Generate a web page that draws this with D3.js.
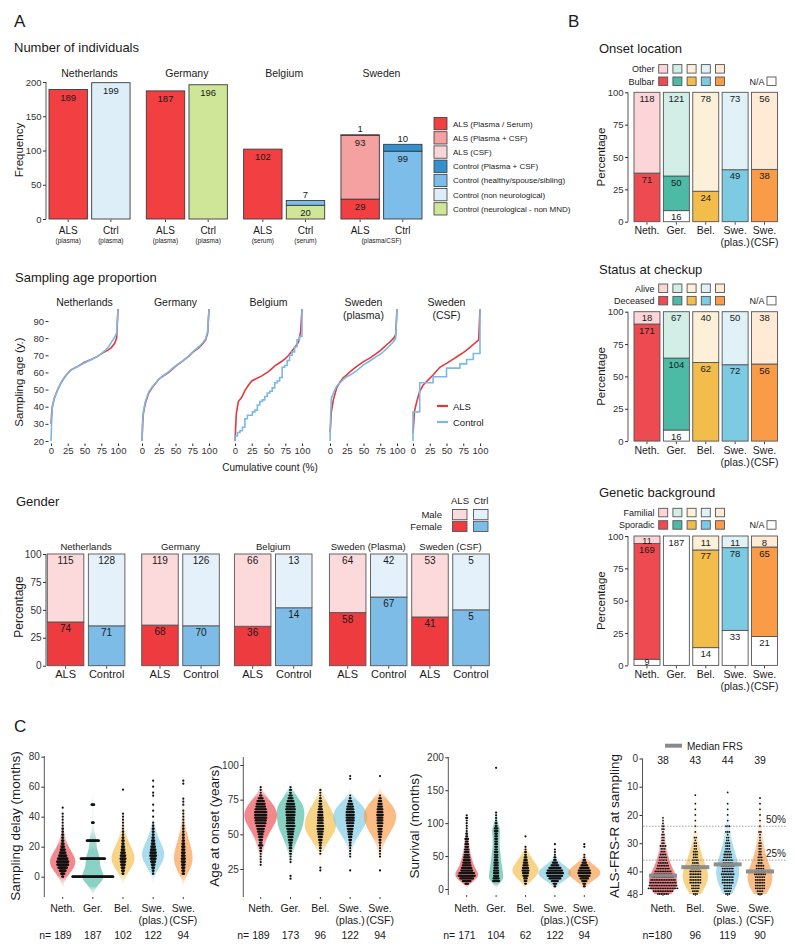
<!DOCTYPE html>
<html lang="en">
<head>
<meta charset="UTF-8">
<title>ALS cohorts</title>
<script src="https://cdn.jsdelivr.net/npm/d3@7"></script>
<style>
  body { margin: 0; background: #fff; }
  text { font-family: "Liberation Sans", Arial, Helvetica, sans-serif; }
</style>
</head>
<body>
<script>
const width = 800, height = 951;
const FONT = '"Liberation Sans", Arial, Helvetica, sans-serif';

// ---------- A: number of individuals ----------
const countries = ["Netherlands", "Germany", "Belgium", "Sweden"];
const sampleGroups = ["ALS", "Ctrl"];
const sampleMaterial = [["(plasma)", "(plasma)"], ["(plasma)", "(plasma)"], ["(serum)", "(serum)"], ["(plasma/CSF)"]];
const cohortTypes = ["ALS (Plasma / Serum)", "ALS (Plasma + CSF)", "ALS (CSF)", "Control (Plasma + CSF)",
  "Control (healthy/spouse/sibling)", "Control (non neurological)", "Control (neurological - non MND)"];
const cohortColors = ["#f23f42", "#f5a1a1", "#fad7d7", "#3591cd", "#7cbde9", "#ddeef8", "#cfe597"];
// per country, per sample group: [cohort type, count] from bottom to top
const countStacks = [
  [[[0, 189]], [[5, 199]]],
  [[[0, 187]], [[6, 196]]],
  [[[0, 102]], [[6, 20], [4, 7]]],
  [[[0, 29], [1, 93], [2, 1]], [[4, 99], [3, 10]]]
];

// ---------- A: sampling age proportion (cumulative %, age) ----------
const ecdfPanels = ["Netherlands", "Germany", "Belgium", "Sweden\n(plasma)", "Sweden\n(CSF)"];
const ecdfPct = [0, 1, 2, 5, 10, 15, 20, 25, 30, 40, 50, 60, 70, 75, 80, 85, 90, 95, 98, 100];
const ecdfAls = [
  [30, 36, 40, 45, 50, 54, 57, 59.5, 61.5, 63.5, 66, 67.5, 69.5, 70.8, 72, 73, 74.5, 77, 80, 97],
  [20, 30, 36, 42, 48, 51, 53.5, 56, 57.5, 60, 63.5, 66.5, 69.5, 71.5, 73, 74.5, 76.5, 79, 83, 97],
  [20, 28, 36, 43, 45.5, 49.5, 52.5, 55, 56, 58, 60.5, 64, 66.5, 68, 70, 72.5, 75, 78, 84, 97],
  [25, 30, 37, 44, 51, 54.5, 57, 58.5, 60.5, 63.5, 66.3, 68.5, 71.3, 72.7, 74.5, 76.3, 78, 80, 82, 97],
  [24.5, 30, 37, 42, 49, 52.5, 54.6, 56.5, 58.5, 63, 65.3, 67.8, 70.3, 71.6, 73, 74.6, 76.3, 78, 79, 97]
];
const ecdfCtrl = [
  [20, 32, 40, 45, 50, 54, 57, 59.5, 61.5, 63.5, 65.5, 67.5, 69.5, 71, 72.5, 74.5, 77.5, 80.5, 83, 97],
  [20, 33, 37, 43, 48.5, 51.5, 53.5, 56, 57.5, 60.5, 63.8, 66.5, 69.5, 71.7, 73.5, 75, 77, 79.5, 84, 97],
  null, [20, 35, 45, 48, 52, 54, 56, 57.5, 58.5, 61, 64.4, 66.8, 69.5, 70.6, 72.2, 74, 76, 78, 80, 97], null
];
// small control groups drawn as steps from the individual ages
const belgiumCtrlAges = [23, 25, 26, 28, 33, 35, 35, 37, 38, 41, 43, 44, 46, 48, 49, 51, 54, 55, 57, 63, 64, 67, 70, 72, 75, 79, 81];
const swedenCsfCtrlAges = [37, 54, 54, 57.5, 57.5, 62.5, 62.5, 65, 67.5, 71];

// ---------- A: gender ----------
const genderGroups = ["Netherlands", "Germany", "Belgium", "Sweden (Plasma)", "Sweden (CSF)"];
const alsFemale = [74, 68, 36, 58, 41];
const alsMale = [115, 119, 66, 64, 53];
const ctrlFemale = [71, 70, 14, 67, 5];
const ctrlMale = [128, 126, 13, 42, 5];

// ---------- B ----------
const bGroups = ["Neth.", "Ger.", "Bel.", "Swe.\n(plas.)", "Swe.\n(CSF)"];
const onsetBulbar = [71, 50, 24, 49, 38];
const onsetOther = [118, 121, 78, 73, 56];
const onsetNA = [0, 16, 0, 0, 0];
const statusDeceased = [171, 104, 62, 72, 56];
const statusAlive = [18, 67, 40, 50, 38];
const statusNA = [0, 16, 0, 0, 0];
const geneticSporadic = [169, 0, 77, 78, 65];
const geneticFamilial = [11, 0, 11, 11, 8];
const geneticNA = [9, 187, 14, 33, 21];

// ---------- C: histograms (first bin value, bin step, counts) ----------
const cGroups = ["Neth.", "Ger.", "Bel.", "Swe.\n(plas.)", "Swe.\n(CSF)"];
const delayBins = [
  { start: 0, step: 2, counts: [3, 8, 14, 20, 25, 26, 22, 17, 13, 10, 7, 5, 4, 3, 3, 2, 2, 1, 1, 1, 1, 1, 0, 1] },
  { start: 0, step: 12, counts: [92, 55, 28, 5, 7] },
  { start: 2, step: 2, counts: [3, 5, 7, 9, 11, 12, 11, 9, 7, 6, 4, 4, 3, 2, 2, 1, 1, 1, 1, 1, 1, 0, 0, 0, 0, 0, 0, 0, 1] },
  { start: 2, step: 2, counts: [2, 3, 5, 7, 10, 12, 14, 13, 11, 9, 7, 6, 4, 3, 3, 3, 2, 1, 0, 1, 0, 1, 0, 1, 0, 0, 1, 1, 0, 1, 0, 1] },
  { start: 2, step: 2, counts: [4, 5, 6, 7, 8, 8, 7, 7, 6, 6, 5, 4, 3, 3, 2, 2, 2, 1, 1, 1, 1, 1, 0, 1, 1, 1, 0, 0, 0, 0, 1, 1] }
];
const delayN = [189, 187, 102, 122, 94];
const onsetAgeBins = [
  { start: 28, step: 2, counts: [1, 1, 1, 1, 1, 2, 2, 5, 3, 4, 5, 6, 8, 9, 11, 13, 14, 15, 15, 15, 14, 12, 11, 9, 6, 3, 1, 1, 1] },
  { start: 18, step: 2, counts: [1, 1, 0, 0, 0, 0, 1, 1, 1, 2, 2, 3, 3, 4, 5, 6, 7, 8, 9, 11, 10, 10, 10, 11, 11, 12, 11, 10, 8, 6, 4, 2, 2, 1] },
  { start: 24, step: 2, counts: [1, 1, 0, 0, 0, 0, 1, 1, 2, 2, 3, 4, 5, 6, 7, 8, 8, 7, 7, 7, 6, 6, 5, 4, 3, 3, 2, 1, 1, 1] },
  { start: 24, step: 2, counts: [1, 0, 0, 0, 0, 1, 1, 1, 1, 2, 2, 3, 4, 5, 6, 7, 8, 9, 10, 10, 10, 10, 9, 8, 6, 4, 2, 1, 0, 0, 0, 0, 0, 1, 1] },
  { start: 24, step: 2, counts: [1, 0, 0, 0, 0, 1, 1, 1, 1, 1, 2, 2, 3, 4, 5, 5, 6, 7, 7, 7, 8, 7, 7, 6, 5, 4, 3, 1, 0, 0, 0, 0, 0, 0, 1] }
];
const onsetAgeN = [189, 173, 96, 122, 94];
const survivalBins = [
  { start: 8, step: 4, counts: [4, 10, 16, 20, 18, 14, 12, 10, 9, 8, 7, 6, 5, 5, 4, 4, 3, 4, 2, 2, 1, 1, 1, 1, 1, 2, 1] },
  { start: 12, step: 4, counts: [8, 7, 6, 6, 6, 5, 5, 5, 4, 4, 4, 4, 3, 3, 3, 3, 3, 3, 3, 4, 4, 2, 2, 1, 1, 1, 1,
      0, 0, 0, 0, 0, 0, 0, 0, 0, 0, 0, 0, 0, 0, 0, 0, 1] },
  { start: 8, step: 4, counts: [2, 3, 4, 6, 7, 8, 7, 6, 5, 4, 3, 2, 2, 1, 1, 0, 0, 0, 1] },
  { start: 4, step: 4, counts: [2, 4, 8, 14, 18, 20, 18, 14, 9, 6, 3, 2, 1, 1, 1, 0, 1] },
  { start: 4, step: 4, counts: [2, 3, 6, 10, 13, 15, 14, 11, 8, 5, 3, 1, 1, 0, 0, 1, 1] }
];
const survivalN = [171, 104, 62, 122, 94];
const frsGroups = ["Neth.", "Bel.", "Swe.\n(plas.)", "Swe.\n(CSF)"];
const frsBins = [
  { start: 21, step: 1, counts: [1, 1, 1, 2, 2, 1, 2, 2, 2, 2, 4, 3, 3, 4, 5, 5, 6, 7, 8, 10, 11, 13, 15, 16, 17, 18, 12, 7] },
  { start: 13, step: 1, counts: [1, 0, 0, 1, 0, 1, 0, 1, 0, 1, 0, 1, 0, 1, 0, 2, 1, 2, 2, 2, 3, 3, 3, 4, 4, 5, 6, 7, 7, 7, 7, 7, 5, 5, 4, 3] },
  { start: 12, step: 1, counts: [1, 0, 0, 0, 1, 0, 1, 0, 1, 0, 1, 0, 3, 0, 3, 1, 2, 2, 3, 3, 3, 4, 5, 5, 6, 6, 8, 7, 7, 8, 7, 7, 7, 5, 5, 4, 3] },
  { start: 14, step: 1, counts: [1, 0, 1, 0, 1, 0, 1, 0, 1, 0, 1, 0, 2, 1, 1, 1, 2, 2, 2, 2, 2, 3, 3, 3, 5, 5, 6, 7, 6, 6, 6, 6, 6, 4, 3] }
];
const frsN = [180, 96, 119, 90];
const frsMedian = [41.5, 38.5, 37.5, 40];
const frsTopLabels = [38, 43, 44, 39];

// colours
const bDark = ["#ee4a51", "#4cbaa5", "#f2bd4a", "#7dcae3", "#f99b47"];
const bLight = ["#fcd5d8", "#d3ede7", "#fdf0d8", "#e0f1f8", "#feead5"];
const alsColor = "#e4383c", ctrlColor = "#7ab9e6";

const svg = d3.select("body").append("svg")
  .attr("width", width).attr("height", height)
  .style("background", "#fff");
const defs = svg.append("defs");

function label(g, x, y, s, size, opts = {}) {
  const t = g.append("text")
    .attr("x", x).attr("y", y)
    .attr("font-size", size)
    .attr("text-anchor", opts.anchor || "middle")
    .attr("fill", opts.fill || "#1a1a1a");
  if (opts.rotate) t.attr("transform", `rotate(-90,${x},${y})`);
  String(s).split("\n").forEach((l, i) => {
    t.append("tspan").attr("x", x).attr("dy", i ? (opts.lh || size * 1.15) : 0).text(l);
  });
  return t;
}

function styleAxis(sel, size) {
  sel.attr("font-family", FONT).attr("font-size", size);
  sel.select(".domain").remove();
  sel.selectAll(".tick line").attr("stroke", "#333");
  sel.selectAll(".tick text").attr("fill", "#333");
}

function vline(g, x, y1, y2) {
  g.append("line").attr("x1", x).attr("x2", x).attr("y1", y1).attr("y2", y2)
    .attr("stroke", "#444").attr("stroke-width", 0.9);
}

// panel letters
label(svg, 14, 27, "A", 17, { anchor: "start" });
label(svg, 568, 27, "B", 17, { anchor: "start" });
label(svg, 14, 732, "C", 17, { anchor: "start" });

// ================= A1 =================
{
  const g = svg.append("g");
  label(g, 14, 52, "Number of individuals", 13, { anchor: "start" });
  const y = d3.scaleLinear([0, 200], [219, 82]);
  const xc = d3.scaleBand(countries, [49, 422]).paddingInner(0.167);
  const xs = d3.scaleBand(sampleGroups, [0, xc.bandwidth()]).paddingInner(0.1);

  vline(g, 46, y(200), y(0));
  g.append("g").attr("transform", "translate(46,0)")
    .call(d3.axisLeft(y).tickValues([0, 50, 100, 150, 200]).tickSize(3).tickPadding(1.5))
    .call(styleAxis, 9.5);
  label(g, 23, 150, "Frequency", 11.5, { rotate: true });

  countries.forEach((c, ci) => {
    const x0 = xc(c);
    label(g, x0 + xc.bandwidth() / 2, 77, c, 10.5);
    sampleGroups.forEach((s, si) => {
      const bx = x0 + xs(s), bw = xs.bandwidth();
      const segs = countStacks[ci][si];
      const total = d3.sum(segs, d => d[1]);
      let acc = 0;
      segs.forEach(([type, n]) => {
        g.append("rect")
          .attr("x", bx).attr("y", y(acc + n))
          .attr("width", bw).attr("height", y(acc) - y(acc + n))
          .attr("fill", cohortColors[type])
          .attr("stroke", "#3a3a3a").attr("stroke-width", 0.9);
        acc += n;
      });
      acc = 0;
      segs.forEach(([type, n]) => {
        const top = y(acc + n);
        if (y(acc) - top < 10) label(g, bx + bw / 2, y(total) - 2.5, n, 9.5);
        else label(g, bx + bw / 2, top + 11, n, 9.5);
        acc += n;
      });
      g.append("line").attr("x1", bx + bw / 2).attr("x2", bx + bw / 2)
        .attr("y1", 219.5).attr("y2", 222).attr("stroke", "#444");
      label(g, bx + bw / 2, 233.5, s, 10);
      if (sampleMaterial[ci].length === 2) label(g, bx + bw / 2, 242.5, sampleMaterial[ci][si], 6.5);
    });
    if (sampleMaterial[ci].length === 1) label(g, x0 + xc.bandwidth() / 2, 242.5, sampleMaterial[ci][0], 6.5);
  });

  // legend
  cohortTypes.forEach((t, i) => {
    const ly = 117.5 + i * 14.2;
    g.append("rect").attr("x", 434).attr("y", ly).attr("width", 13).attr("height", 12.3)
      .attr("fill", cohortColors[i]).attr("stroke", "#3a3a3a").attr("stroke-width", 0.8);
    label(g, 453, ly + 9, t, 8, { anchor: "start" });
  });
}

// ================= A2: ECDF =================
{
  const g = svg.append("g");
  label(g, 15, 282, "Sampling age proportion", 13, { anchor: "start" });
  const y = d3.scaleLinear([20, 90], [441, 321]);
  const ecdfLeft = [51, 142, 235, 330, 413];
  const line = d3.line();

  g.append("g").attr("transform", "translate(48.5,0)")
    .call(d3.axisLeft(y).tickValues([20, 30, 40, 50, 60, 70, 80, 90]).tickSize(3).tickPadding(1.5))
    .call(styleAxis, 9.5);
  label(g, 23, 382, "Sampling age (y.)", 11.5, { rotate: true });
  label(g, 270, 471, "Cumulative count (%)", 10);

  ecdfPanels.forEach((name, i) => {
    const x = d3.scaleLinear([0, 100], [ecdfLeft[i], ecdfLeft[i] + 67]);
    label(g, x(50), 306, name, 10.5, { lh: 12.5 });
    g.append("g").attr("transform", "translate(0,443.5)")
      .call(d3.axisBottom(x).tickValues([0, 25, 50, 75, 100]).tickSize(2.5).tickPadding(1.5))
      .call(styleAxis, 9.5);
    line.x(d => x(d[0])).y(d => y(d[1]));

    g.append("path").attr("d", line(d3.zip(ecdfPct, ecdfAls[i])))
      .attr("fill", "none").attr("stroke", alsColor).attr("stroke-width", 1.6);

    let ctrlPts;
    if (ecdfCtrl[i]) {
      ctrlPts = d3.zip(ecdfPct, ecdfCtrl[i]);
    } else {
      const ages = i === 2 ? belgiumCtrlAges : swedenCsfCtrlAges;
      ctrlPts = [[0, 20]];
      ages.forEach((a, k) => {
        ctrlPts.push([k / ages.length * 100, a], [(k + 1) / ages.length * 100, a]);
      });
      ctrlPts.push([100, 97]);
    }
    g.append("path").attr("d", line(ctrlPts))
      .attr("fill", "none").attr("stroke", ctrlColor).attr("stroke-width", 1.6);
  });

  [["ALS", alsColor, 406], ["Control", ctrlColor, 422]].forEach(([t, c, ly]) => {
    g.append("line").attr("x1", 437).attr("x2", 448).attr("y1", ly).attr("y2", ly)
      .attr("stroke", c).attr("stroke-width", 2.2);
    label(g, 453, ly + 3.5, t, 9.5, { anchor: "start" });
  });
}

// ================= A3: gender =================
{
  const g = svg.append("g");
  label(g, 16, 506, "Gender", 13, { anchor: "start" });
  const y = d3.scaleLinear([0, 100], [665.7, 554]);
  const genderLeft = [47.3, 141.7, 234.4, 329.4, 411.7];
  const colors = { ALS: ["#ee3b40", "#fcd9da"], Control: ["#7dbce6", "#e5f1fa"] };

  vline(g, 46, y(100), y(0));
  g.append("g").attr("transform", "translate(46,0)")
    .call(d3.axisLeft(y).tickValues([0, 25, 50, 75, 100]).tickSize(3).tickPadding(1.5))
    .call(styleAxis, 10);
  label(g, 23, 607, "Percentage", 12, { rotate: true });

  // legend
  label(g, 460, 503.5, "ALS", 9.5);
  label(g, 481, 503.5, "Ctrl", 9.5);
  [["Male", 1, 509.5], ["Female", 0, 521.3]].forEach(([t, k, ly]) => {
    label(g, 442, ly + 8.3, t, 9.5, { anchor: "end" });
    g.append("rect").attr("x", 452.5).attr("y", ly).attr("width", 14.5).attr("height", 10.2)
      .attr("fill", colors.ALS[k]).attr("stroke", "#555").attr("stroke-width", 0.9);
    g.append("rect").attr("x", 473.5).attr("y", ly).attr("width", 14.5).attr("height", 10.2)
      .attr("fill", colors.Control[k]).attr("stroke", "#555").attr("stroke-width", 0.9);
  });

  genderGroups.forEach((name, i) => {
    const xs = d3.scaleBand(["ALS", "Control"], [genderLeft[i], genderLeft[i] + 77.6]).paddingInner(0.11);
    label(g, genderLeft[i] + 38.8, 549.5, name, 9.5);
    [["ALS", alsFemale[i], alsMale[i]], ["Control", ctrlFemale[i], ctrlMale[i]]].forEach(([grp, f, m]) => {
      const bx = xs(grp), bw = xs.bandwidth();
      const fp = f / (f + m) * 100;
      g.append("rect").attr("x", bx).attr("y", y(fp)).attr("width", bw).attr("height", y(0) - y(fp))
        .attr("fill", colors[grp][0]).attr("stroke", "#555").attr("stroke-width", 0.9);
      g.append("rect").attr("x", bx).attr("y", y(100)).attr("width", bw).attr("height", y(fp) - y(100))
        .attr("fill", colors[grp][1]).attr("stroke", "#555").attr("stroke-width", 0.9);
      label(g, bx + bw / 2, y(100) + 9.5, m, 10);
      label(g, bx + bw / 2, y(fp) + 10, f, 10);
      g.append("line").attr("x1", bx + bw / 2).attr("x2", bx + bw / 2)
        .attr("y1", 666.2).attr("y2", 668.7).attr("stroke", "#444");
      label(g, bx + bw / 2, 678, grp, 11);
    });
  });
}

// ================= B =================
{
  const bPanels = [
    { title: "Onset location", yTop: 92.3, names: ["Other", "Bulbar"], na: onsetNA, dark: onsetBulbar, light: onsetOther },
    { title: "Status at checkup", yTop: 311.7, names: ["Alive", "Deceased"], na: statusNA, dark: statusDeceased, light: statusAlive },
    { title: "Genetic background", yTop: 536, names: ["Familial", "Sporadic"], na: geneticNA, dark: geneticSporadic, light: geneticFamilial }
  ];
  const x = d3.scaleBand(bGroups, [634, 777.5]).paddingInner(0.116);
  const titleY = [53, 273.5, 496.5];

  bPanels.forEach((p, pi) => {
    const g = svg.append("g");
    const y = d3.scaleLinear([0, 100], [p.yTop + 129.4, p.yTop]);
    label(g, 599, titleY[pi], p.title, 13, { anchor: "start" });

    // legend
    const r1 = p.yTop - 27.7, r2 = r1 + 12.4;
    label(g, 654.5, r1 + 7.5, p.names[0], 9, { anchor: "end" });
    label(g, 654.5, r2 + 7.5, p.names[1], 9, { anchor: "end" });
    bGroups.forEach((_, i) => {
      g.append("rect").attr("x", 658.7 + i * 14.2).attr("y", r1).attr("width", 9).attr("height", 8.5)
        .attr("fill", bLight[i]).attr("stroke", "#555").attr("stroke-width", 0.9);
      g.append("rect").attr("x", 658.7 + i * 14.2).attr("y", r2).attr("width", 9).attr("height", 8.5)
        .attr("fill", bDark[i]).attr("stroke", "#555").attr("stroke-width", 0.9);
    });
    label(g, 764.5, r2 + 7.5, "N/A", 9, { anchor: "end" });
    g.append("rect").attr("x", 767).attr("y", r2).attr("width", 9).attr("height", 8.5)
      .attr("fill", "#fff").attr("stroke", "#555").attr("stroke-width", 0.9);

    vline(g, 628, y(100), y(0));
    g.append("g").attr("transform", "translate(628,0)")
      .call(d3.axisLeft(y).tickValues([0, 25, 50, 75, 100]).tickSize(3).tickPadding(1.5))
      .call(styleAxis, 9.5);
    label(g, 605, p.yTop + 64.7, "Percentage", 11.5, { rotate: true });

    bGroups.forEach((name, i) => {
      const bx = x(name), bw = x.bandwidth();
      const segs = [[p.na[i], "#fff"], [p.dark[i], bDark[i]], [p.light[i], bLight[i]]];
      const total = d3.sum(segs, s => s[0]);
      let acc = 0;
      const tops = [];
      segs.forEach(([v, c]) => {
        if (v <= 0) return;
        const y0 = y(acc / total * 100), y1 = y((acc + v) / total * 100);
        g.append("rect").attr("x", bx).attr("y", y1).attr("width", bw).attr("height", y0 - y1)
          .attr("fill", c).attr("stroke", "#555").attr("stroke-width", 0.9);
        tops.push([v, y1, y0 - y1]);
        acc += v;
      });
      tops.forEach(([v, t, h]) => {
        const base = h < 10 ? t + 7.8 : t + 9.5;
        label(g, bx + bw / 2, Math.min(base, y(0) - 0.5), v, h < 10 ? 9 : 9.5);
      });
      g.append("line").attr("x1", bx + bw / 2).attr("x2", bx + bw / 2)
        .attr("y1", y(0) + 0.5).attr("y2", y(0) + 3).attr("stroke", "#444");
      label(g, bx + bw / 2, y(0) + 12.5, name, 10.5, { lh: 12 });
    });
  });
}

// ================= C: violins =================
function gauss(u) { return Math.exp(-0.5 * u * u) / Math.sqrt(2 * Math.PI); }

function violinPanel(cfg, pid) {
  const g = svg.append("g");
  const y = d3.scaleLinear(cfg.domain, cfg.range);
  const x = d3.scalePoint(cfg.groups, cfg.xRange);

  vline(g, cfg.axisX, cfg.axisTop, cfg.axisBottom);
  g.append("g").attr("transform", `translate(${cfg.axisX},0)`)
    .call(d3.axisLeft(y).tickValues(cfg.ticks).tickSize(3).tickPadding(1.5))
    .call(styleAxis, 10);
  label(g, cfg.ylabelX, 826, cfg.ylabel, 13.5, { rotate: true });

  cfg.data.forEach((d, i) => {
    const cx = x(cfg.groups[i]);
    const vals = d.counts.map((c, k) => [d.start + k * d.step, c]).filter(v => v[1] > 0);
    const n = d3.sum(vals, v => v[1]);
    let lo = d3.min(vals, v => v[0]) - 3 * cfg.bw;
    let hi = d3.max(vals, v => v[0]) + 3 * cfg.bw;
    if (cfg.clipHi !== undefined) hi = Math.min(hi, cfg.clipHi);
    const grid = d3.range(0, 121).map(k => lo + (hi - lo) * k / 120);
    const dens = grid.map(t => [t, d3.sum(vals, v => v[1] * gauss((t - v[0]) / cfg.bw)) / (n * cfg.bw)]);
    const peak = d3.max(dens, v => v[1]);

    const gid = `vg${pid}_${i}`;
    const grad = defs.append("linearGradient").attr("id", gid)
      .attr("gradientUnits", "userSpaceOnUse")
      .attr("x1", 0).attr("x2", 0).attr("y1", y(lo)).attr("y2", y(hi));
    dens.forEach((v, k) => {
      grad.append("stop").attr("offset", k / 120)
        .attr("stop-color", cfg.colors[i])
        .attr("stop-opacity", 0.66 * Math.min(1, v[1] / peak * 2.3));
    });
    const area = d3.area()
      .y(v => y(v[0]))
      .x0(v => cx - v[1] * cfg.k)
      .x1(v => cx + v[1] * cfg.k)
      .curve(d3.curveBasis);
    g.append("path").attr("d", area(dens)).attr("fill", `url(#${gid})`);

    // swarm rows
    const dots = [];
    vals.forEach(([v, c]) => {
      for (let j = 0; j < c; j++) dots.push([cx + (j - (c - 1) / 2) * cfg.dotGap, y(v)]);
    });
    g.selectAll(null).data(dots).join("circle")
      .attr("cx", p => p[0]).attr("cy", p => p[1]).attr("r", cfg.r)
      .attr("fill", "#111");

    if (cfg.median) {
      g.append("line").attr("x1", cx - 14).attr("x2", cx + 14)
        .attr("y1", y(cfg.median[i])).attr("y2", y(cfg.median[i]))
        .attr("stroke", "#8a8a8a").attr("stroke-width", 4).attr("stroke-opacity", 0.95);
    }

    g.append("line").attr("x1", cx).attr("x2", cx)
      .attr("y1", cfg.axisBottom).attr("y2", cfg.axisBottom + 2).attr("stroke", "#444");
    label(g, cx, 912, cfg.groups[i], 10.5, { lh: 12 });
    const nTxt = i === 0 ? cfg.nPrefix + cfg.n[i] : cfg.n[i];
    if (i === 0) label(g, cx + 9, 939, nTxt, 10.5, { anchor: "end" });
    else label(g, cx, 939, nTxt, 10.5);
  });
  return { g, x, y };
}

violinPanel({
  groups: cGroups, xRange: [62.7, 183.3], axisX: 44.3,
  domain: [0, 80], range: [876.7, 756.7], ticks: [0, 20, 40, 60, 80],
  axisTop: 756, axisBottom: 897, ylabel: "Sampling delay (months)", ylabelX: 20,
  data: delayBins, n: delayN, nPrefix: "n= ", colors: bDark,
  bw: 5, k: 260, dotGap: 0.45, r: 1.1
}, 1);

violinPanel({
  groups: cGroups, xRange: [260.7, 380], axisX: 243.3,
  domain: [25, 100], range: [869, 765], ticks: [25, 50, 75, 100],
  axisTop: 757, axisBottom: 897, ylabel: "Age at onset (years)", ylabelX: 219,
  data: onsetAgeBins, n: onsetAgeN, nPrefix: "n= ", colors: bDark,
  bw: 4.5, k: 450, dotGap: 0.8, r: 1.1
}, 2);

violinPanel({
  groups: cGroups, xRange: [466.7, 584.3], axisX: 448.3,
  domain: [0, 200], range: [889, 757.3], ticks: [0, 50, 100, 150, 200],
  axisTop: 757, axisBottom: 895, ylabel: "Survival (months)", ylabelX: 419,
  data: survivalBins, n: survivalN, nPrefix: "n= ", colors: bDark,
  bw: 5.5, k: 470, dotGap: 0.85, r: 1.1
}, 3);

{
  const frsColors = [bDark[0], bDark[2], bDark[3], bDark[4]];
  const { g, x, y } = violinPanel({
    groups: frsGroups, xRange: [663, 760], axisX: 642.5,
    domain: [0, 48], range: [758.5, 894], ticks: [0, 10, 20, 30, 40, 48],
    axisTop: 758.5, axisBottom: 894, ylabel: "ALS-FRS-R at sampling", ylabelX: 619,
    data: frsBins, n: frsN, nPrefix: "n=", colors: frsColors,
    bw: 3, k: 200, dotGap: 1.7, r: 0.9, clipHi: 48, median: frsMedian
  }, 4);

  [[24, "50%"], [36, "25%"]].forEach(([v, t]) => {
    g.append("line").attr("x1", 643).attr("x2", 787).attr("y1", y(v)).attr("y2", y(v))
      .attr("stroke", "#999").attr("stroke-width", 0.9).attr("stroke-dasharray", "1.5,1.5");
    label(g, 766, y(v) - 3, t, 10, { anchor: "start" });
  });
  frsGroups.forEach((grp, i) => label(g, x(grp), 764, frsTopLabels[i], 10.5));
  g.append("line").attr("x1", 665).attr("x2", 682).attr("y1", 745.7).attr("y2", 745.7)
    .attr("stroke", "#8a8a8a").attr("stroke-width", 4);
  label(g, 687, 749.5, "Median FRS", 10, { anchor: "start" });
}
</script>
</body>
</html>
